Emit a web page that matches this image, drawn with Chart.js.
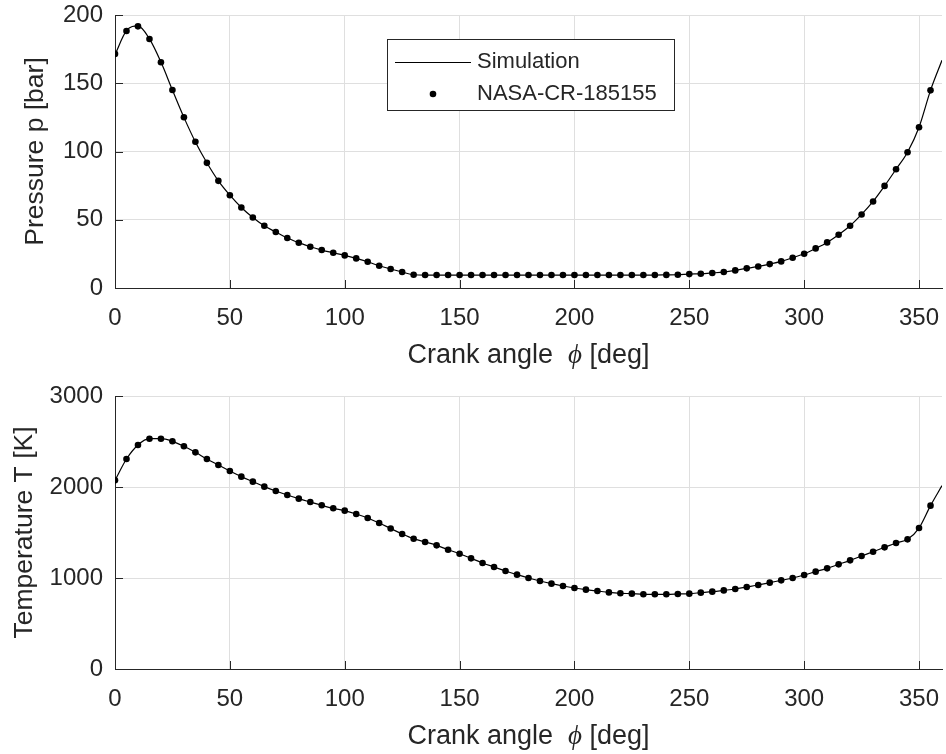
<!DOCTYPE html>
<html>
<head>
<meta charset="utf-8">
<script src="https://cdn.jsdelivr.net/npm/chart.js@4.4.0/dist/chart.umd.min.js"></script>
<style>
  body { margin: 0; background: #fff; }
  canvas { position: absolute; left: 0; }
  #pChart { top: 0; }
  #tChart { top: 381px; }
</style>
</head>
<body>
<canvas id="pChart" width="946" height="373"></canvas>
<canvas id="tChart" width="946" height="373"></canvas>
<script>
// crank angle of the NASA-CR-185155 samples [deg]
var angle = [0, 5, 10, 15, 20, 25, 30, 35, 40, 45, 50, 55, 60, 65, 70, 75, 80, 85, 90, 95,
  100, 105, 110, 115, 120, 125, 130, 135, 140, 145, 150, 155, 160, 165, 170, 175, 180, 185, 190, 195,
  200, 205, 210, 215, 220, 225, 230, 235, 240, 245, 250, 255, 260, 265, 270, 275, 280, 285, 290, 295,
  300, 305, 310, 315, 320, 325, 330, 335, 340, 345, 350, 355];

// crank angle of the simulation curve [deg]
var simAngle = [0, 5, 10, 15, 20, 25, 30, 35, 40, 45, 50, 55, 60, 65, 70, 75, 80, 85, 90, 95,
  100, 105, 110, 115, 120, 125, 130, 135, 140, 145, 150, 155, 160, 165, 170, 175, 180, 185, 190, 195,
  200, 205, 210, 215, 220, 225, 230, 235, 240, 245, 250, 255, 260, 265, 270, 275, 280, 285, 290, 295,
  300, 305, 310, 315, 320, 325, 330, 335, 340, 345, 350, 355, 360];

// pressure [bar]
var pressNasa = [171.5, 188.3, 191.7, 182.4, 165.4, 145.1, 125.1, 107.1, 91.7, 78.5,
  68.0, 59.0, 51.7, 45.6, 41.0, 36.6, 33.2, 30.2, 27.8, 25.8,
  23.9, 21.7, 19.2, 16.3, 13.9, 11.7, 9.7, 9.5, 9.5, 9.5,
  9.5, 9.5, 9.5, 9.5, 9.5, 9.5, 9.5, 9.5, 9.5, 9.5,
  9.5, 9.5, 9.5, 9.5, 9.5, 9.5, 9.5, 9.5, 9.6, 9.7,
  10.2, 10.4, 11.0, 11.7, 12.9, 14.4, 15.8, 17.5, 19.5, 22.2,
  25.1, 29.0, 33.4, 39.0, 45.6, 53.9, 63.4, 74.8, 87.0, 99.5,
  117.8, 144.8];

var pressSim = [171.0, 188.5, 192.0, 182.5, 165.5, 145.0, 125.0, 107.0, 91.8, 78.5,
  68.0, 59.0, 51.7, 45.6, 41.0, 36.6, 33.2, 30.2, 27.8, 25.8,
  23.9, 21.7, 19.2, 16.3, 13.9, 11.7, 9.7, 9.5, 9.5, 9.5,
  9.5, 9.5, 9.5, 9.5, 9.5, 9.5, 9.5, 9.5, 9.5, 9.5,
  9.5, 9.5, 9.5, 9.5, 9.5, 9.5, 9.5, 9.5, 9.6, 9.7,
  10.2, 10.4, 11.0, 11.7, 12.9, 14.4, 15.8, 17.5, 19.5, 22.2,
  25.1, 29.0, 33.4, 39.0, 45.6, 53.9, 63.4, 74.8, 87.0, 99.5,
  117.8, 144.8, 166.8];

// temperature [K]
var tempNasa = [2073, 2308, 2462, 2531, 2531, 2502, 2447, 2381, 2308, 2242,
  2176, 2114, 2059, 2004, 1956, 1912, 1872, 1835, 1799, 1766,
  1740, 1703, 1659, 1604, 1544, 1484, 1432, 1396, 1359, 1311,
  1267, 1216, 1165, 1121, 1077, 1037, 1000, 967, 938, 912,
  890, 872, 857, 842, 832, 828, 821, 821, 821, 824,
  828, 839, 850, 864, 879, 901, 923, 949, 974, 1000,
  1033, 1070, 1106, 1150, 1194, 1242, 1289, 1337, 1385, 1425,
  1549, 1795];

var tempSim = [2073, 2308, 2462, 2531, 2531, 2502, 2447, 2381, 2308, 2242,
  2176, 2114, 2059, 2004, 1956, 1912, 1872, 1835, 1799, 1766,
  1740, 1703, 1659, 1604, 1544, 1484, 1432, 1396, 1359, 1311,
  1267, 1216, 1165, 1121, 1077, 1037, 1000, 967, 938, 912,
  890, 872, 857, 842, 832, 828, 821, 821, 821, 824,
  828, 839, 850, 864, 879, 901, 923, 949, 974, 1000,
  1033, 1070, 1106, 1150, 1194, 1242, 1289, 1337, 1385, 1425,
  1549, 1795, 2015];

var xTicksMax = 360;
var pressTicks = { min: 0, max: 200, step: 50 };
var tempTicks = { min: 0, max: 3000, step: 1000 };

var FONT = "'Liberation Sans', Arial, Helvetica, sans-serif";
var INK = '#262626';
var GRID = '#dfdfdf';

function pairs(xs, ys) {
  return xs.map(function (x, i) { return { x: x, y: ys[i] }; });
}

// drop the automatic label overflow padding so the axes box is set by layout.padding
function noPad(s) {
  s.paddingTop = 0; s.paddingBottom = 0; s.paddingLeft = 0; s.paddingRight = 0;
}

// MATLAB style tick marks pointing into the axes
var innerTicks = {
  id: 'innerTicks',
  afterDraw: function (chart) {
    var ctx = chart.ctx, a = chart.chartArea;
    var xs = chart.scales.x, ys = chart.scales.y;
    ctx.save();
    ctx.strokeStyle = INK;
    ctx.lineWidth = 1;
    ctx.beginPath();
    xs.ticks.forEach(function (t) {
      var px = Math.round(xs.getPixelForValue(t.value)) + 0.5;
      ctx.moveTo(px, a.bottom);
      ctx.lineTo(px, a.bottom - 8);
    });
    ys.ticks.forEach(function (t) {
      var py = Math.round(ys.getPixelForValue(t.value)) + 0.5;
      ctx.moveTo(a.left, py);
      ctx.lineTo(a.left + 8, py);
    });
    ctx.stroke();
    ctx.restore();
  }
};

// x label with an italic phi, like the MATLAB tex interpreter
var xLabel = {
  id: 'xLabel',
  afterDraw: function (chart) {
    var ctx = chart.ctx, a = chart.chartArea;
    var parts = [
      { t: 'Crank angle  ', f: '27px ' + FONT },
      { t: '\u03D5', f: 'italic 27px "Liberation Serif", "DejaVu Serif", serif' },
      { t: ' [deg]', f: '27px ' + FONT }
    ];
    ctx.save();
    var total = 0;
    parts.forEach(function (p) { ctx.font = p.f; p.w = ctx.measureText(p.t).width; total += p.w; });
    var x = (a.left + a.right) / 2 - total / 2;
    var y = a.bottom + 75;
    ctx.fillStyle = INK;
    ctx.textBaseline = 'alphabetic';
    ctx.textAlign = 'left';
    parts.forEach(function (p) { ctx.font = p.f; ctx.fillText(p.t, x, y); x += p.w; });
    ctx.restore();
  }
};

// boxed legend inside the upper axes
var boxLegend = {
  id: 'boxLegend',
  afterDraw: function (chart) {
    var ctx = chart.ctx;
    var bx = 387, by = 39, bw = 287, bh = 71;
    ctx.save();
    ctx.fillStyle = '#fff';
    ctx.fillRect(bx, by, bw, bh);
    ctx.strokeStyle = INK;
    ctx.lineWidth = 1;
    ctx.strokeRect(bx + 0.5, by + 0.5, bw, bh);
    ctx.beginPath();
    ctx.moveTo(395, 62.5);
    ctx.lineTo(471, 62.5);
    ctx.lineWidth = 1.2;
    ctx.strokeStyle = '#000';
    ctx.stroke();
    ctx.beginPath();
    ctx.arc(433, 94, 3.3, 0, Math.PI * 2);
    ctx.fillStyle = '#000';
    ctx.fill();
    ctx.fillStyle = INK;
    ctx.font = '22px ' + FONT;
    ctx.textBaseline = 'middle';
    ctx.textAlign = 'left';
    ctx.fillText(chart.data.datasets[0].label, 477, 62);
    ctx.fillText(chart.data.datasets[1].label, 477, 94);
    ctx.restore();
  }
};

function makeChart(id, simY, nasaY, yt, yTitle, yTitlePad, plugins) {
  var ctx = document.getElementById(id).getContext('2d');
  return new Chart(ctx, {
    type: 'line',
    data: {
      datasets: [{
        label: 'Simulation',
        data: pairs(simAngle, simY),
        borderColor: '#000',
        borderWidth: 1.2,
        pointRadius: 0,
        cubicInterpolationMode: 'monotone',
        fill: false
      }, {
        label: 'NASA-CR-185155',
        data: pairs(angle, nasaY),
        showLine: false,
        pointRadius: 3.3,
        pointBackgroundColor: '#000',
        pointBorderWidth: 0,
        borderColor: '#000'
      }]
    },
    options: {
      responsive: false,
      animation: false,
      layout: { padding: { top: 15, right: 2, left: 0, bottom: 0 } },
      plugins: { legend: { display: false }, tooltip: { enabled: false } },
      scales: {
        x: {
          type: 'linear',
          min: 0,
          max: xTicksMax,
          afterFit: function (s) { s.height = 85; noPad(s); },
          ticks: { stepSize: 50, includeBounds: false, color: INK, padding: 16, maxRotation: 0,
            font: { family: FONT, size: 24 } },
          grid: { color: GRID, drawTicks: false },
          border: { color: INK, width: 1 },
          title: { display: false }
        },
        y: {
          min: yt.min,
          max: yt.max,
          afterFit: function (s) { s.width = 115; noPad(s); },
          ticks: { stepSize: yt.step, color: INK, padding: 12,
            font: { family: FONT, size: 24 },
            callback: function (v) { return String(v); } },
          grid: { color: GRID, drawTicks: false },
          border: { color: INK, width: 1 },
          title: { display: true, text: yTitle, color: INK,
            font: { family: FONT, size: 26.5 }, padding: { top: yTitlePad, bottom: 0 } }
        }
      }
    },
    plugins: plugins
  });
}

makeChart('pChart', pressSim, pressNasa, pressTicks, 'Pressure p [bar]', 20, [innerTicks, xLabel, boxLegend]);
makeChart('tChart', tempSim, tempNasa, tempTicks, 'Temperature T [K]', 9, [innerTicks, xLabel]);
</script>
</body>
</html>
